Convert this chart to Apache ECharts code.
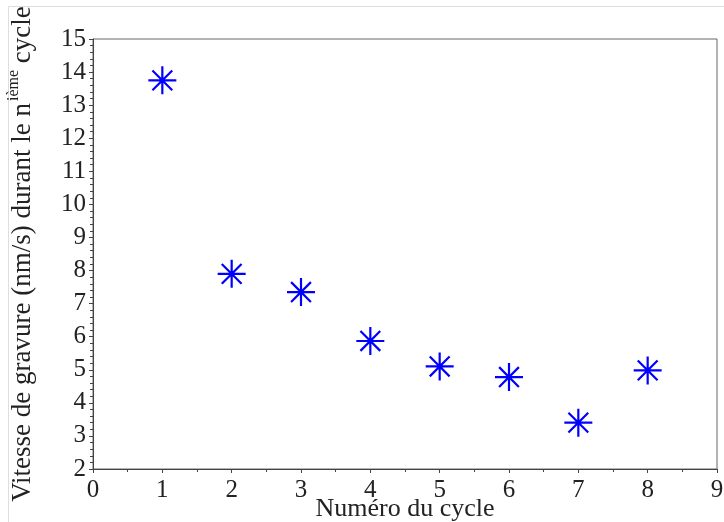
<!DOCTYPE html>
<html>
<head>
<meta charset="utf-8">
<script src="https://cdn.jsdelivr.net/npm/echarts@6/dist/echarts.min.js"></script>
<style>html,body{margin:0;padding:0;background:#fff}#c{width:724px;height:522px}</style>
</head>
<body>
<div id="c"></div>
<script>
const cycles = [1, 2, 3, 4, 5, 6, 7, 8];
const speeds = [13.75, 7.9, 7.35, 5.87, 5.1, 4.78, 3.4, 4.98];
const xTicks = { min: 0, max: 9, interval: 1 };
const yTicks = { min: 2, max: 15, interval: 1 };

const chart = echarts.init(document.getElementById('c'), null, { renderer: 'canvas' });
const font = 'Liberation Serif';
const asterisk = 'path://M0 -1L0 1M-1 0L1 0M-0.7071 -0.7071L0.7071 0.7071M-0.7071 0.7071L0.7071 -0.7071';

chart.setOption({
  animation: false,
  backgroundColor: '#fff',
  graphic: [{
    type: 'rect', shape: { x: 8.5, y: 6.5, width: 760, height: 560 },
    style: { fill: 'none', stroke: '#dedede', lineWidth: 1 }, silent: true
  }],
  grid: { left: 93, right: 7, top: 39, bottom: 53, show: true, borderColor: '#666', borderWidth: 1,
    backgroundColor: 'transparent', containLabel: false, outerBoundsMode: 'none' },
  xAxis: {
    type: 'value', min: xTicks.min, max: xTicks.max, interval: xTicks.interval,
    name: 'Numéro du cycle', nameLocation: 'middle', nameGap: 27, nameMoveOverlap: false,
    nameTextStyle: { fontFamily: font, fontSize: 26, color: '#222' },
    axisLine: { show: true, lineStyle: { color: '#444', width: 1 } },
    axisTick: { show: true, inside: false, length: 4, lineStyle: { color: '#444' } },
    minorTick: { show: true, splitNumber: 2, length: 3, lineStyle: { color: '#444' } },
    splitLine: { show: false },
    axisLabel: { fontFamily: font, fontSize: 25, color: '#222', margin: 9 }
  },
  yAxis: {
    type: 'value', min: yTicks.min, max: yTicks.max, interval: yTicks.interval,
    name: '{n|Vitesse de gravure (nm/s) durant le n}{s|ième}{n| cycle}', nameLocation: 'middle', nameGap: 57, nameMoveOverlap: false,
    nameTextStyle: { fontFamily: font, fontSize: 27, color: '#222',
      rich: {
        n: { fontFamily: font, fontSize: 27, color: '#222', lineHeight: 30, verticalAlign: 'bottom' },
        s: { fontFamily: font, fontSize: 16, color: '#222', lineHeight: 30, verticalAlign: 'top', padding: [0, 0, 0, 2] }
      } },
    axisLine: { show: true, lineStyle: { color: '#444', width: 1 } },
    axisTick: { show: true, inside: false, length: 4, lineStyle: { color: '#444' } },
    minorTick: { show: true, splitNumber: 5, length: 3, lineStyle: { color: '#444' } },
    splitLine: { show: false },
    axisLabel: { fontFamily: font, fontSize: 25, color: '#222', margin: 7 }
  },
  series: [{
    type: 'scatter',
    data: cycles.map((c, i) => [c, speeds[i]]),
    symbol: asterisk, symbolSize: 28,
    itemStyle: { color: 'transparent', borderColor: '#0000ff', borderWidth: 2.2, opacity: 1 }
  }]
});
</script>
</body>
</html>
